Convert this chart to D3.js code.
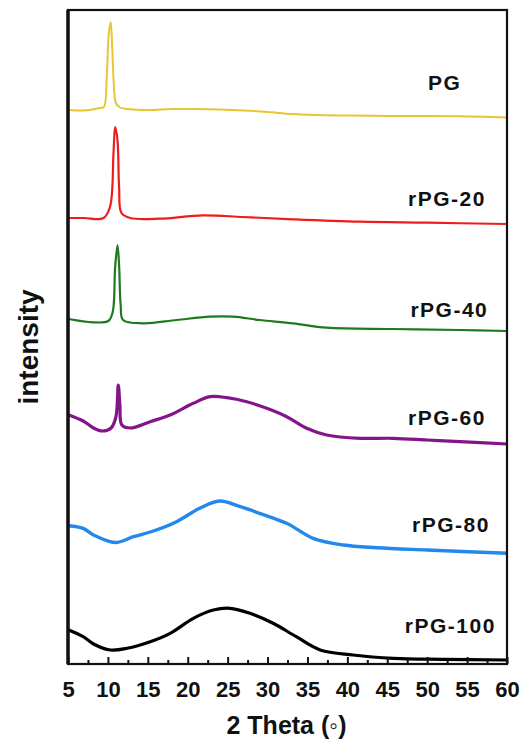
<!DOCTYPE html>
<html>
<head>
<meta charset="utf-8">
<script src="https://cdn.jsdelivr.net/npm/d3@7/dist/d3.min.js"></script>
<style>
  body { margin: 0; background: #fff; }
  text { font-family: "Liberation Sans", Arial, sans-serif; font-weight: bold; fill: #111; }
</style>
</head>
<body>
<svg id="chart" width="523" height="749"></svg>
<script>
// x tick labels (2 theta, degrees)
const majorTicks = [5, 10, 15, 20, 25, 30, 35, 40, 45, 50, 55, 60];
const minorTicks = [7.5, 12.5, 17.5, 22.5, 27.5, 32.5, 37.5, 42.5, 47.5, 52.5, 57.5];

const sampleNames = ["PG", "rPG-20", "rPG-40", "rPG-60", "rPG-80", "rPG-100"];

// stacked patterns, [2theta, intensity a.u.]
const pg = [[5.1,554],[7,553.5],[9,556],[9.5,557],[9.85,587],[10.1,629],[10.35,642],[10.55,614],
  [10.8,572],[11.0,561],[11.5,556.5],[12.5,555],[15,554],[18,555],[21,555],[24,554.5],[27,553.5],
  [30,552],[33,550],[36,549],[40,548.5],[45,548],[50,548],[55,547.5],[60,546.5]];
const rpg20 = [[5.1,446],[7,446],[9.4,445.7],[10.26,457],[10.7,511],[10.9,537],[11.2,524],[11.4,477],
  [11.7,451],[12.8,446],[16.5,445.3],[21.9,448.7],[26.9,447],[33.2,444.7],[41.6,442.3],[50,441.3],[60,440]];
const rpg40 = [[5.1,345],[8.1,341.7],[10.05,343],[10.6,352],[10.9,396],[11.2,419],[11.4,399],[11.6,359],
  [11.9,344],[14.4,340.7],[18.6,344],[22.8,347.3],[25.7,347.3],[29,344],[33.2,340.7],[37.4,336.3],
  [45.7,335],[54.1,334],[60,333]];
const rpg60 = [[5.1,249],[6.9,243],[8.2,236],[9.3,233],[10.4,236],[11.0,247],[11.3,279],[11.5,259],
  [11.75,239],[12.8,236],[15.3,242.3],[17.8,249],[20.7,260.7],[22.8,267.3],[24.9,266.3],[27.4,262.3],
  [29.9,255.7],[32.4,247.3],[34.9,235.7],[37.4,229],[41.6,225.7],[45.7,225.7],[50,224],[54.1,222.3],[60,220]];
const rpg80 = [[5.1,138.3],[6.9,135.7],[8.2,129],[10.9,121.5],[13.2,127.3],[15.7,133],[18.6,142.3],
  [21.5,155.7],[24.0,163],[26.6,157.3],[29,150.7],[32.4,140.7],[35.7,125.7],[39.5,119],[43.7,116.3],
  [50,114],[60,110.7]];
const rpg100 = [[5.1,34],[6.9,27.3],[8.2,20],[10.3,14],[12.4,15.7],[15.3,22.3],[17.8,30.7],[20.7,45.7],
  [23.2,54],[25.3,55.7],[27.8,50.7],[30.7,40.7],[33.6,27.3],[36.6,14],[40.7,9],[45.8,5.7],[52,4.7],[60,4]];

const seriesData = [pg, rpg20, rpg40, rpg60, rpg80, rpg100];

// layout
const W = 523, H = 749;
const margin = {top: 10, right: 16, bottom: 85, left: 68};
const innerW = W - margin.left - margin.right;
const innerH = H - margin.top - margin.bottom;

const colors = ["#e8c630", "#ee1c1c", "#1f7a1f", "#84148a", "#2288ec", "#000000"];
const strokeW = [2, 2.2, 2.2, 3.2, 3.4, 3.2];
// label anchor in data units [2theta, intensity]
const labelAt = [[50.1, 574], [47.6, 458], [47.9, 347], [47.6, 239], [48.1, 132], [47.2, 31]];

const svg = d3.select("#chart");
const g = svg.append("g").attr("transform", `translate(${margin.left},${margin.top})`);

const x = d3.scaleLinear().domain([5, 60]).range([0, innerW]);
const y = d3.scaleLinear().domain([0, 654]).range([innerH, 0]);

const line = d3.line()
    .x(d => x(d[0]))
    .y(d => y(d[1]))
    .curve(d3.curveCatmullRom.alpha(0.5));

g.selectAll(".trace").data(seriesData).enter().append("path")
    .attr("class", "trace")
    .attr("d", line)
    .attr("fill", "none")
    .attr("stroke", (d, i) => colors[i])
    .attr("stroke-width", (d, i) => strokeW[i])
    .attr("stroke-linejoin", "round");

g.selectAll(".label").data(sampleNames).enter().append("text")
    .attr("class", "label")
    .attr("x", (d, i) => x(labelAt[i][0]))
    .attr("y", (d, i) => y(labelAt[i][1]))
    .attr("font-size", 21)
    .attr("letter-spacing", 1.5)
    .text(d => d);

// axes
const xAxis = g.append("g").attr("transform", `translate(0,${innerH})`)
    .call(d3.axisBottom(x).tickValues(majorTicks).tickSize(-7).tickSizeOuter(0).tickPadding(17)
        .tickFormat(d3.format("d")));
xAxis.select(".domain").remove();
xAxis.selectAll(".tick line").attr("stroke", "#111").attr("stroke-width", 2);
xAxis.selectAll(".tick text")
    .attr("font-size", 22)
    .attr("fill", "#111")
    .style("font-family", '"Liberation Sans", Arial, sans-serif')
    .style("font-weight", "bold");

const xMinor = g.append("g").attr("transform", `translate(0,${innerH})`)
    .call(d3.axisBottom(x).tickValues(minorTicks).tickSize(-4).tickSizeOuter(0).tickFormat(""));
xMinor.select(".domain").remove();
xMinor.selectAll(".tick line").attr("stroke", "#111").attr("stroke-width", 2);

// frame
g.append("rect")
    .attr("x", 0).attr("y", 0)
    .attr("width", innerW).attr("height", innerH)
    .attr("fill", "none").attr("stroke", "#111").attr("stroke-width", 2.2);
g.append("line")
    .attr("x1", 0).attr("x2", 0).attr("y1", 0).attr("y2", innerH)
    .attr("stroke", "#111").attr("stroke-width", 3.5);

// axis titles
svg.append("text")
    .attr("x", margin.left + innerW / 2 - 1)
    .attr("y", 734)
    .attr("text-anchor", "middle")
    .attr("font-size", 25)
    .text("2 Theta (\u25E6)");

svg.append("text")
    .attr("transform", `translate(38,${margin.top + innerH / 2 + 10}) rotate(-90)`)
    .attr("text-anchor", "middle")
    .attr("font-size", 28)
    .text("intensity");
</script>
</body>
</html>
